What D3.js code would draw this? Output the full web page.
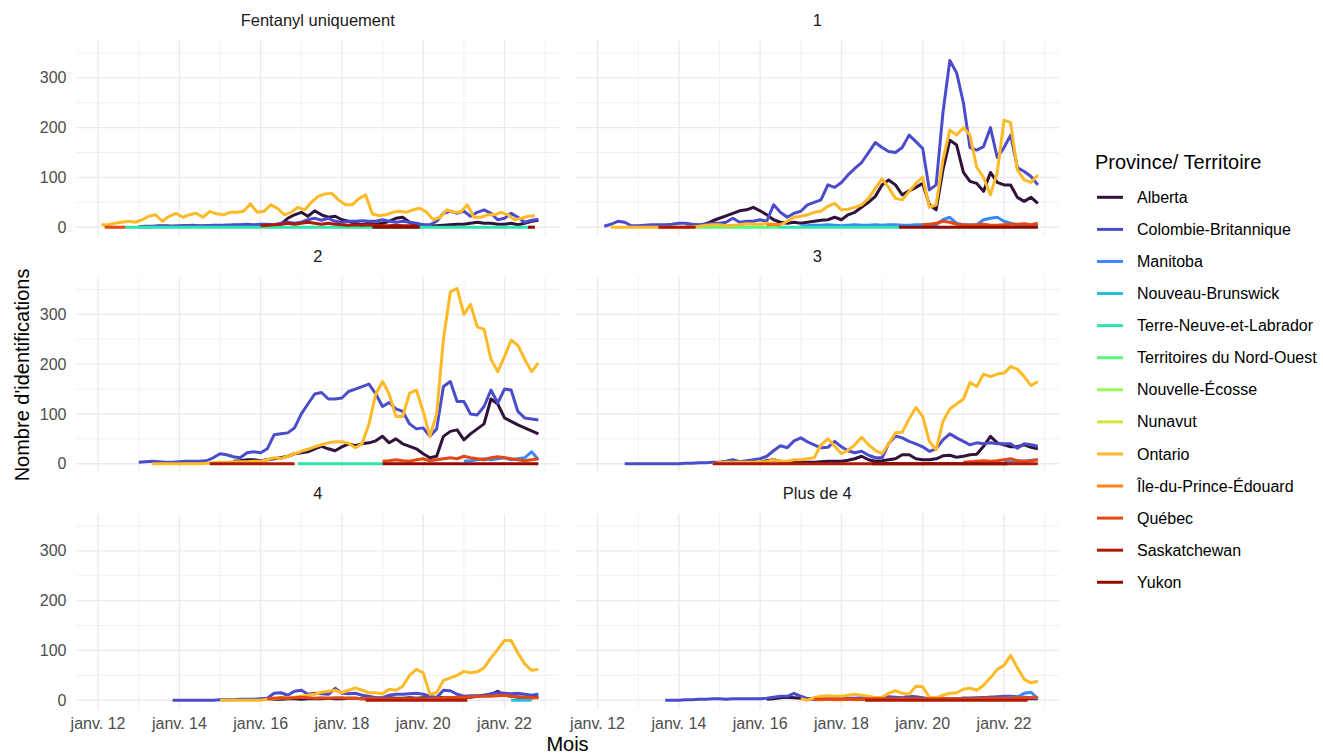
<!DOCTYPE html>
<html><head><meta charset="utf-8">
<script src="https://cdn.jsdelivr.net/npm/d3@7"></script>
<style>
body{margin:0;background:#fff}
text{font-family:"Liberation Sans",Arial,Helvetica,sans-serif}
</style>
</head><body>
<svg id="chart" width="1323" height="754"></svg>
<script>
// ---------------- DATA ----------------
const provinces = ["Alberta","Colombie-Britannique","Manitoba","Nouveau-Brunswick","Terre-Neuve-et-Labrador","Territoires du Nord-Ouest","Nouvelle-Écosse","Nunavut","Ontario","Île-du-Prince-Édouard","Québec","Saskatchewan","Yukon"];
const panelTitles = ["Fentanyl uniquement","1","2","3","4","Plus de 4"];
const yTickValues = [0,100,200,300];
const yMinorValues = [50,150,250,350];
const xTickDates = ["2012-01","2014-01","2016-01","2018-01","2020-01","2022-01"];
const xTickLabels = ["janv. 12","janv. 14","janv. 16","janv. 18","janv. 20","janv. 22"];
const xMinorDates = ["2013-01","2015-01","2017-01","2019-01","2021-01","2023-01"];
const xLimits = ["2011-06-17","2023-05-10"];
const yLimits = [-18, 374.6];

// series: [province, first month, months between values, values]
const seriesFentanylOnly = [
  ["Alberta","2013-01",2,[1,1,1,2,2,2,2,3,3,2,3,3,3,4,3,4,3,3,2,3,4,6,18,25,30,22,33,25,20,22,15,12,8,5,8,6,8,12,18,20,10,5,4,3,3,4,5,6,6,8,10,8,8,6,6,8,5,8,12,14]],
  ["Colombie-Britannique","2013-01",2,[1,2,2,3,3,2,3,3,4,3,3,4,4,4,5,5,6,5,6,6,5,8,10,8,10,15,18,14,18,12,10,12,12,13,12,12,15,12,10,12,10,8,5,5,12,28,32,28,32,22,30,35,28,15,18,28,20,10,14,16]],
  ["Terre-Neuve-et-Labrador","2012-09",120,[0,0]],
  ["Ontario","2012-02",2,[5,5,8,10,12,10,15,22,25,12,22,28,20,25,28,20,32,27,25,30,30,32,47,30,32,45,38,25,30,40,35,50,62,67,68,55,45,45,57,65,27,23,25,30,32,30,35,38,30,15,20,35,30,30,45,20,20,25,25,30,25,15,18,22,23]],
  ["Québec","2012-03",2,[0,0,0,0]],
  ["Saskatchewan","2016-01",2,[3,4,5,6,8,6,8,10,8,6,8,6,5,4,5,4,5,4,3,3,4,3,3,3]],
  ["Yukon","2018-10",14,[0,0]],
  ["Yukon","2022-08",2,[0,0]]
];
const seriesOne = [
  ["Alberta","2014-03",2,[0,2,4,7,13,18,23,28,33,35,40,33,25,15,10,8,10,8,10,12,14,15,20,15,25,30,40,50,62,85,95,85,65,73,80,88,45,35,115,175,165,110,92,88,72,110,90,85,85,60,52,60,48]],
  ["Colombie-Britannique","2012-03",2,[2,6,12,10,3,3,4,5,5,5,6,8,8,6,5,6,8,8,10,18,10,12,12,15,12,45,30,20,28,32,45,50,55,85,80,90,105,118,130,150,170,160,152,150,160,185,172,158,75,85,230,335,310,250,160,155,162,200,140,160,185,120,112,102,85]],
  ["Manitoba","2017-01",2,[3,3,4,4,5,4,3,4,5,4,4,5,4,5,5,4,4,5,5,6,5,15,20,8,5,5,5,15,18,20,12,8,5,3,3,3]],
  ["Terre-Neuve-et-Labrador","2016-06",36,[0,0]],
  ["Territoires du Nord-Ouest","2014-06",24,[0,0]],
  ["Ontario","2012-05",2,[0,0,0,0,0,0,0,0,0,0,0,0,1,2,4,5,5,3,4,5,7,6,6,8,5,5,12,20,22,25,30,32,42,48,35,36,40,45,58,78,97,80,58,55,72,88,100,40,45,135,195,185,200,185,120,100,65,110,215,210,115,95,90,105]],
  ["Île-du-Prince-Édouard","2016-03",2,[4,6,5]],
  ["Québec","2020-01",2,[5,6,8,12,10,6,5,4,5,6,4,4,5,6,6,7,5,8]],
  ["Saskatchewan","2013-07",11,[0,0]],
  ["Yukon","2019-06",41,[0,0]]
];
const seriesTwo = [
  ["Alberta","2015-05",2,[5,6,8,8,6,8,10,12,15,20,22,24,30,35,30,26,34,40,36,40,42,46,55,42,50,40,35,30,20,12,15,55,65,68,48,60,70,80,130,120,92,85,78,72,66,60]],
  ["Colombie-Britannique","2013-01",2,[3,4,5,4,3,3,4,5,5,5,6,12,20,18,14,12,22,24,22,30,58,60,62,72,100,120,140,143,130,130,132,145,150,155,160,140,115,123,110,105,80,70,72,55,70,155,165,125,125,100,98,115,148,122,150,148,105,92,90,88]],
  ["Manitoba","2021-01",2,[5,6,8,10,8,10,12,8,10,12,24,8]],
  ["Terre-Neuve-et-Labrador","2016-12",25,[0,0]],
  ["Ontario","2013-05",2,[0,0,0,0,0,0,0,0,1,2,3,3,4,4,4,5,5,8,12,10,15,20,25,29,34,38,42,44,44,41,32,40,80,140,165,140,95,95,142,148,105,55,100,250,345,352,300,320,275,270,210,185,215,248,238,210,185,202]],
  ["Québec","2019-01",2,[5,6,8,6,5,8,10,6,8,10,12,10,15,12,10,8,12,14,12,10,8,6,8,10]],
  ["Saskatchewan","2014-10",25,[0,0]],
  ["Yukon","2019-01",46,[0,0]]
];
const seriesThree = [
  ["Alberta","2016-01",2,[3,6,8,5,4,3,3,3,3,4,5,5,5,7,10,15,8,5,6,8,10,18,18,10,8,8,10,16,17,13,15,18,19,35,55,42,38,34,34,38,33,30]],
  ["Colombie-Britannique","2012-09",2,[0,0,0,0,0,0,0,0,0,1,1,2,2,3,3,5,8,4,6,8,10,15,26,36,32,46,52,44,38,32,33,45,34,26,22,25,17,12,12,40,56,52,45,40,34,25,30,48,60,52,45,38,42,40,42,40,40,40,31,40,38,35]],
  ["Manitoba","2022-01",2,[2,4,6,5,7,8]],
  ["Ontario","2014-11",2,[0,2,3,3,3,3,3,4,4,8,5,5,8,8,10,12,38,50,35,20,27,38,53,38,27,20,40,62,63,90,113,95,45,28,85,110,120,130,163,155,180,175,180,182,195,190,175,157,165]],
  ["Québec","2021-01",2,[3,4,5,6,5,6,8,10,6,5,6,8]],
  ["Saskatchewan","2014-11",96,[0,0]],
  ["Yukon","2018-10",40,[0,0]]
];
const seriesFour = [
  ["Alberta","2016-03",2,[3,2,2,3,3,2,3,3,3,4,3,3,4,4,3,3,4,4,5,4,4,5,4,5,5,6,5,5,6,6,6,8,10,12,18,10,8,6,6,5,6]],
  ["Colombie-Britannique","2013-11",2,[0,0,0,0,0,0,0,1,1,1,2,2,2,3,4,14,15,10,18,20,12,14,13,12,24,14,13,14,10,8,5,5,10,12,12,13,14,12,8,5,20,19,12,8,9,9,9,13,15,14,13,14,12,10,12]],
  ["Nouveau-Brunswick","2022-03",6,[0,0]],
  ["Ontario","2015-01",2,[0,0,0,0,0,0,0,2,3,5,5,6,8,10,12,16,18,20,15,20,25,20,15,15,13,22,20,28,50,62,55,12,15,40,45,50,58,55,57,65,85,102,120,120,95,73,60,62]],
  ["Québec","2016-03",2,[3,4,5,4,5,6,5,4,5,4,5,5,4,4,3,4,3,3,3,3,3,3,3,3,3,4,5,5,6,6,7,8,8,8,9,10,8,7,6,5,5]],
  ["Saskatchewan","2018-08",30,[0,0]]
];
const seriesMoreThanFour = [
  ["Alberta","2016-03",2,[2,3,5,6,5,4,3,2,2,2,2,2,2,2,2,2,2,3,3,3,3,3,3,3,3,3,3,3,3,4,4,4,5,6,5,4,4,3,3,3,3]],
  ["Colombie-Britannique","2013-09",2,[0,0,0,1,1,2,2,3,3,2,3,3,3,3,3,4,6,8,8,14,8,3,3,3,3,3,3,4,4,5,5,4,5,7,6,5,8,7,5,3,3,3,3,3,4,4,5,5,6,7,8,8,7,6,5,4]],
  ["Manitoba","2022-01",2,[4,5,6,14,16,3]],
  ["Ontario","2017-01",2,[3,0,5,8,9,8,8,10,12,10,8,5,6,14,19,14,12,28,27,6,5,10,14,15,22,24,20,30,45,62,70,90,65,42,35,38]],
  ["Île-du-Prince-Édouard","2017-05",2,[1,1,2,1,1,2,1,1]],
  ["Québec","2017-05",2,[2,2,2,2,2,2,2,2,3,3,3,3,3,3,3,3,3,3,3,3,3,3,3,3,3,4,4,4,4,4,5,5,5,6]],
  ["Saskatchewan","2018-08",48,[0,0]]
];
const panelSeries = [seriesFentanylOnly, seriesOne, seriesTwo, seriesThree, seriesFour, seriesMoreThanFour];

// ---------------- STYLE / LAYOUT ----------------
const palette = d3.quantize(d3.interpolateTurbo, provinces.length);
palette[0] = "#30123b";
const color = d3.scaleOrdinal().domain(provinces).range(palette);

const W = 483.5, H = 195.5;
const colX = [76, 575.5];
const rowY = [40.7, 277.2, 513.7];
const gridColor = "#ebebeb";

const parseMonth = d3.timeParse("%Y-%m");
const parseDay = d3.timeParse("%Y-%m-%d");

const x = d3.scaleTime().domain(xLimits.map(parseDay)).range([0, W]);
const y = d3.scaleLinear().domain(yLimits).range([H, 0]);

function expand(entry) {
  const [prov, start, step, vals] = entry;
  const s = parseMonth(start);
  return { prov, pts: vals.map((v, i) => ({ date: d3.timeMonth.offset(s, i * step), v })) };
}

const svg = d3.select("#chart");
const line = d3.line().x(d => x(d.date)).y(d => y(d.v));

panelTitles.forEach((title, pi) => {
  const col = pi % 2, row = Math.floor(pi / 2);
  const g = svg.append("g").attr("transform", `translate(${colX[col]},${rowY[row]})`);

  // minor grid
  g.selectAll(".ym").data(yMinorValues).join("line")
    .attr("x1", 0).attr("x2", W).attr("y1", d => y(d)).attr("y2", d => y(d))
    .attr("stroke", gridColor).attr("stroke-width", 0.7);
  g.selectAll(".xm").data(xMinorDates.map(parseMonth)).join("line")
    .attr("y1", 0).attr("y2", H).attr("x1", d => x(d)).attr("x2", d => x(d))
    .attr("stroke", gridColor).attr("stroke-width", 0.7);
  // major grid
  g.selectAll(".yM").data(yTickValues).join("line")
    .attr("x1", 0).attr("x2", W).attr("y1", d => y(d)).attr("y2", d => y(d))
    .attr("stroke", gridColor).attr("stroke-width", 1.4);
  g.selectAll(".xM").data(xTickDates.map(parseMonth)).join("line")
    .attr("y1", 0).attr("y2", H).attr("x1", d => x(d)).attr("x2", d => x(d))
    .attr("stroke", gridColor).attr("stroke-width", 1.4);

  // strip title
  g.append("text").attr("x", W / 2).attr("y", -15.2).attr("text-anchor", "middle")
    .attr("font-size", 16.5).attr("fill", "#1a1a1a").text(title);

  // series, drawn in legend order
  const ser = panelSeries[pi].map(expand)
    .sort((a, b) => provinces.indexOf(a.prov) - provinces.indexOf(b.prov));
  g.selectAll(".series").data(ser).join("path")
    .attr("d", d => line(d.pts))
    .attr("fill", "none")
    .attr("stroke", d => color(d.prov))
    .attr("stroke-width", 3)
    .attr("stroke-linejoin", "round")
    .attr("stroke-linecap", "butt");

  // y axis labels on left column
  if (col === 0) {
    g.selectAll(".ylab").data(yTickValues).join("text")
      .attr("x", -9.5).attr("y", d => y(d)).attr("dy", "0.35em")
      .attr("text-anchor", "end").attr("font-size", 16).attr("fill", "#4d4d4d")
      .text(d => d);
  }
  // x axis labels on bottom row
  if (row === 2) {
    g.selectAll(".xlab").data(xTickDates).join("text")
      .attr("x", (d) => x(parseMonth(d))).attr("y", H + 20)
      .attr("text-anchor", "middle").attr("font-size", 16).attr("fill", "#4d4d4d")
      .text((d, i) => xTickLabels[i]);
  }
});

// axis titles
svg.append("text").attr("transform", `translate(29,${(rowY[0] + rowY[2] + H) / 2}) rotate(-90)`)
  .attr("text-anchor", "middle").attr("font-size", 20).attr("fill", "#000")
  .text("Nombre d'identifications");
svg.append("text").attr("x", (colX[0] + colX[1] + W) / 2).attr("y", 751)
  .attr("text-anchor", "middle").attr("font-size", 20).attr("fill", "#000").text("Mois");

// legend
const lg = svg.append("g").attr("transform", "translate(1095,0)");
lg.append("text").attr("x", 0).attr("y", 168.5).attr("font-size", 20).attr("fill", "#000")
  .text("Province/ Territoire");
const items = lg.selectAll(".item").data(provinces).join("g")
  .attr("transform", (d, i) => `translate(0,${197.3 + i * 32.08})`);
items.append("line").attr("x1", 2).attr("x2", 28).attr("y1", 0).attr("y2", 0)
  .attr("stroke", d => color(d)).attr("stroke-width", 3);
items.append("text").attr("x", 42).attr("y", 0).attr("dy", "0.35em")
  .attr("font-size", 16).attr("fill", "#000").text(d => d);
</script>
</body></html>
